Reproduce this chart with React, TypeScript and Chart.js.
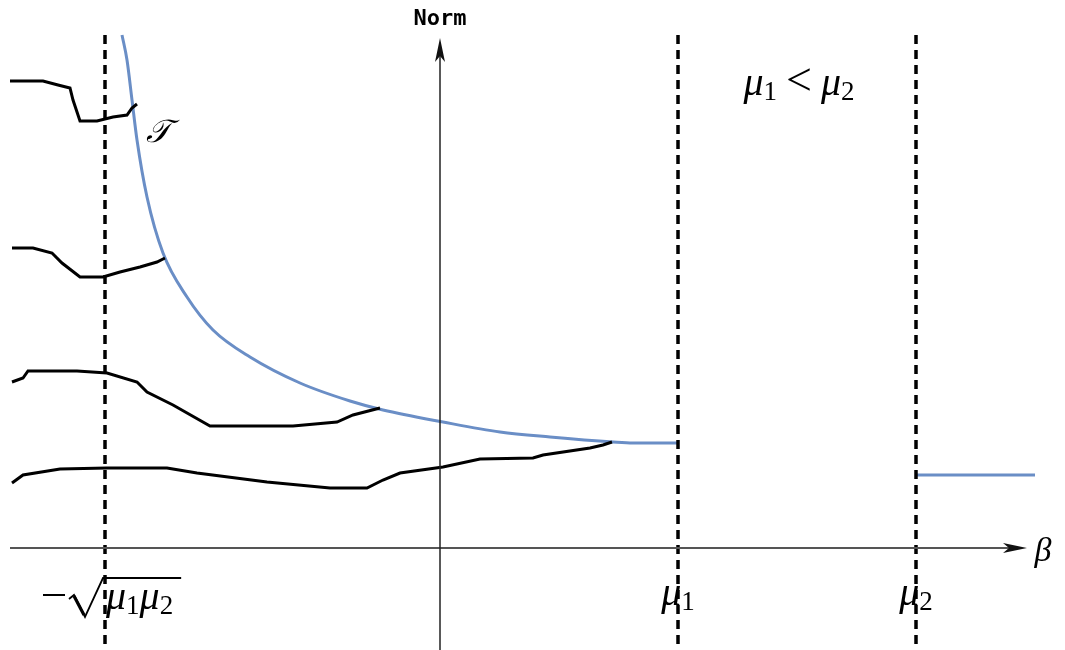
import React, { useEffect, useRef } from "react";
import { Chart, registerables } from "chart.js";

Chart.register(...registerables);

// beta positions of the labelled vertical markers
const markerBetas = [-3.35, 2.38, 4.76];
const markerLabels = ["-sqrt", "mu1", "mu2"];

// T curve (blue), left branch up to mu1
const tBeta = [-3.18, -3.13, -3.08, -3.03, -2.93, -2.77, -2.53, -2.27, -1.9, -1.4, -0.9, -0.57, 0.03, 0.6, 1.1, 1.73, 1.93, 2.38];
const tNorm = [5.13, 4.88, 4.48, 4.08, 3.51, 2.95, 2.51, 2.18, 1.91, 1.65, 1.47, 1.38, 1.26, 1.16, 1.11, 1.06, 1.05, 1.05];
// right branch beyond mu2
const tBeta2 = [4.76, 5.95];
const tNorm2 = [0.73, 0.73];

// black trajectories
const c1Beta = [-4.3, -3.97, -3.82, -3.7, -3.67, -3.6, -3.43, -3.27, -3.13, -3.08, -3.03];
const c1Norm = [4.67, 4.67, 4.63, 4.6, 4.48, 4.27, 4.27, 4.31, 4.33, 4.4, 4.44];
const c2Beta = [-4.28, -4.07, -3.88, -3.78, -3.6, -3.37, -3.2, -3.0, -2.83, -2.75];
const c2Norm = [3.0, 3.0, 2.95, 2.85, 2.71, 2.71, 2.76, 2.81, 2.86, 2.9];
const c3Beta = [-4.28, -4.17, -4.12, -3.63, -3.33, -3.03, -2.93, -2.67, -2.3, -1.47, -1.03, -0.87, -0.6];
const c3Norm = [1.66, 1.7, 1.77, 1.77, 1.75, 1.66, 1.56, 1.43, 1.22, 1.22, 1.26, 1.33, 1.4];
const c4Beta = [-4.28, -4.17, -3.8, -3.33, -2.73, -2.43, -1.73, -1.1, -0.73, -0.57, -0.4, 0.03, 0.4, 0.93, 1.03, 1.5, 1.63, 1.72];
const c4Norm = [0.65, 0.73, 0.79, 0.8, 0.8, 0.75, 0.66, 0.6, 0.6, 0.68, 0.75, 0.81, 0.89, 0.9, 0.93, 1.0, 1.03, 1.06];

const X_MIN = -4.4;
const X_MAX = 6.25;
const Y_MIN = -1.02;
const Y_MAX = 5.48;
const DASH_TOP = 5.13;

const pts = (xs: number[], ys: number[]) => xs.map((x, i) => ({ x, y: ys[i] }));

const BLUE = "#6a8ec6";
const SERIF = '"Liberation Serif", "DejaVu Serif", serif';

type Run = { t: string; size: number; italic?: boolean; dy?: number };

function drawRuns(ctx: CanvasRenderingContext2D, cx: number, baseline: number, runs: Run[], align: "center" | "left" = "center") {
  const font = (r: Run) => `${r.italic ? "italic " : ""}${r.size}px ${SERIF}`;
  let total = 0;
  for (const r of runs) {
    ctx.font = font(r);
    total += ctx.measureText(r.t).width;
  }
  let x = align === "center" ? cx - total / 2 : cx;
  const spans: { x0: number; x1: number }[] = [];
  ctx.textAlign = "left";
  ctx.textBaseline = "alphabetic";
  for (const r of runs) {
    ctx.font = font(r);
    const w = ctx.measureText(r.t).width;
    ctx.fillText(r.t, x, baseline + (r.dy || 0));
    spans.push({ x0: x, x1: x + w });
    x += w;
  }
  return spans;
}

const MU = 40;
const SUB = 27;

const annotations = {
  id: "annotations",
  afterDatasetsDraw(chart: any) {
    const ctx: CanvasRenderingContext2D = chart.ctx;
    const xs = chart.scales.x;
    const ys = chart.scales.y;
    const x0 = xs.getPixelForValue(0);
    const y0 = ys.getPixelForValue(0);
    ctx.save();
    // x axis
    ctx.strokeStyle = "#555";
    ctx.lineWidth = 2;
    ctx.beginPath();
    ctx.moveTo(xs.getPixelForValue(-4.3), y0);
    ctx.lineTo(xs.getPixelForValue(5.75), y0);
    ctx.stroke();
    const tipX = xs.getPixelForValue(5.87);
    ctx.fillStyle = "#111";
    ctx.beginPath();
    ctx.moveTo(tipX, y0);
    ctx.lineTo(tipX - 24, y0 - 5);
    ctx.lineTo(tipX - 18, y0);
    ctx.lineTo(tipX - 24, y0 + 5);
    ctx.closePath();
    ctx.fill();
    // y axis
    ctx.strokeStyle = "#222";
    ctx.lineWidth = 1.5;
    ctx.beginPath();
    ctx.moveTo(x0, ys.getPixelForValue(Y_MIN));
    ctx.lineTo(x0, ys.getPixelForValue(4.95));
    ctx.stroke();
    const tipY = ys.getPixelForValue(5.1);
    ctx.beginPath();
    ctx.moveTo(x0, tipY);
    ctx.lineTo(x0 - 5, tipY + 24);
    ctx.lineTo(x0, tipY + 18);
    ctx.lineTo(x0 + 5, tipY + 24);
    ctx.closePath();
    ctx.fill();

    // axis titles
    ctx.fillStyle = "#000";
    ctx.font = 'bold 22px "DejaVu Sans Mono", monospace';
    ctx.textAlign = "center";
    ctx.textBaseline = "alphabetic";
    ctx.fillText("Norm", x0, ys.getPixelForValue(5.23));
    drawRuns(ctx, xs.getPixelForValue(6.03), y0 + 13, [{ t: "β", size: 34, italic: true }]);

    // marker labels
    const labelBase = ys.getPixelForValue(-0.57);
    markerLabels.forEach((lab, i) => {
      const px = xs.getPixelForValue(markerBetas[i]);
      if (lab === "mu1" || lab === "mu2") {
        drawRuns(ctx, px, labelBase, [
          { t: "μ", size: MU, italic: true },
          { t: lab === "mu1" ? "1" : "2", size: SUB, dy: 5 },
        ]);
      } else {
        const base = labelBase + 4;
        ctx.strokeStyle = "#000";
        // minus
        ctx.lineWidth = 2;
        ctx.beginPath();
        ctx.moveTo(px - 62, base - 14);
        ctx.lineTo(px - 40, base - 14);
        ctx.stroke();
        const spans = drawRuns(ctx, px + 1, base, [
          { t: "μ", size: MU, italic: true },
          { t: "1", size: SUB, dy: 5 },
          { t: "μ", size: MU, italic: true },
          { t: "2", size: SUB, dy: 5 },
        ], "left");
        // radical sign with overline
        const top = base - 31;
        ctx.lineWidth = 1.8;
        ctx.lineJoin = "miter";
        ctx.beginPath();
        ctx.moveTo(px - 36, base - 10);
        ctx.lineTo(px - 31, base - 14);
        ctx.lineTo(px - 20, base + 8);
        ctx.lineTo(px - 2, top);
        ctx.lineTo(spans[spans.length - 1].x1 + 8, top);
        ctx.stroke();
        ctx.lineWidth = 3.2;
        ctx.beginPath();
        ctx.moveTo(px - 31, base - 13);
        ctx.lineTo(px - 21, base + 6);
        ctx.stroke();
      }
    });

    // condition
    drawRuns(ctx, xs.getPixelForValue(3.59), ys.getPixelForValue(4.53), [
      { t: "μ", size: MU, italic: true },
      { t: "1", size: SUB, dy: 5 },
      { t: " ", size: 36 },
      { t: "<", size: 46 },
      { t: " ", size: 36 },
      { t: "μ", size: MU, italic: true },
      { t: "2", size: SUB, dy: 5 },
    ]);

    // curve name
    ctx.font = `italic 32px "DejaVu Serif", ${SERIF}`;
    ctx.textAlign = "center";
    ctx.fillText("𝒯", xs.getPixelForValue(-2.82), ys.getPixelForValue(4.06));
    ctx.restore();
  },
};

export default function App() {
  const ref = useRef<HTMLCanvasElement | null>(null);
  useEffect(() => {
    if (!ref.current) return;
    const black = (xs: number[], ys: number[]) => ({
      data: pts(xs, ys),
      borderColor: "#000",
      borderWidth: 3,
      pointRadius: 0,
      tension: 0,
      fill: false,
    });
    const dashed = (b: number) => ({
      data: [
        { x: b, y: DASH_TOP },
        { x: b, y: Y_MIN },
      ],
      borderColor: "#000",
      borderWidth: 3.5,
      borderDash: [9, 6],
      pointRadius: 0,
      fill: false,
    });
    const chart = new Chart(ref.current, {
      type: "line",
      data: {
        datasets: [
          ...markerBetas.map(dashed),
          black(c1Beta, c1Norm),
          black(c2Beta, c2Norm),
          black(c3Beta, c3Norm),
          black(c4Beta, c4Norm),
          {
            data: pts(tBeta, tNorm),
            borderColor: BLUE,
            borderWidth: 3,
            pointRadius: 0,
            cubicInterpolationMode: "monotone",
            fill: false,
          },
          {
            data: pts(tBeta2, tNorm2),
            borderColor: BLUE,
            borderWidth: 3,
            pointRadius: 0,
            fill: false,
          },
        ] as any,
      },
      options: {
        animation: false,
        responsive: false,
        devicePixelRatio: 1,
        layout: { padding: 0 },
        plugins: { legend: { display: false }, tooltip: { enabled: false } },
        scales: {
          x: { type: "linear", min: X_MIN, max: X_MAX, display: false },
          y: { type: "linear", min: Y_MIN, max: Y_MAX, display: false },
        },
      },
      plugins: [annotations],
    });
    return () => chart.destroy();
  }, []);
  return (
    <div style={{ position: "absolute", left: 0, top: 0, width: 1065, height: 650, background: "#fff" }}>
      <canvas ref={ref} width={1065} height={650} />
    </div>
  );
}
